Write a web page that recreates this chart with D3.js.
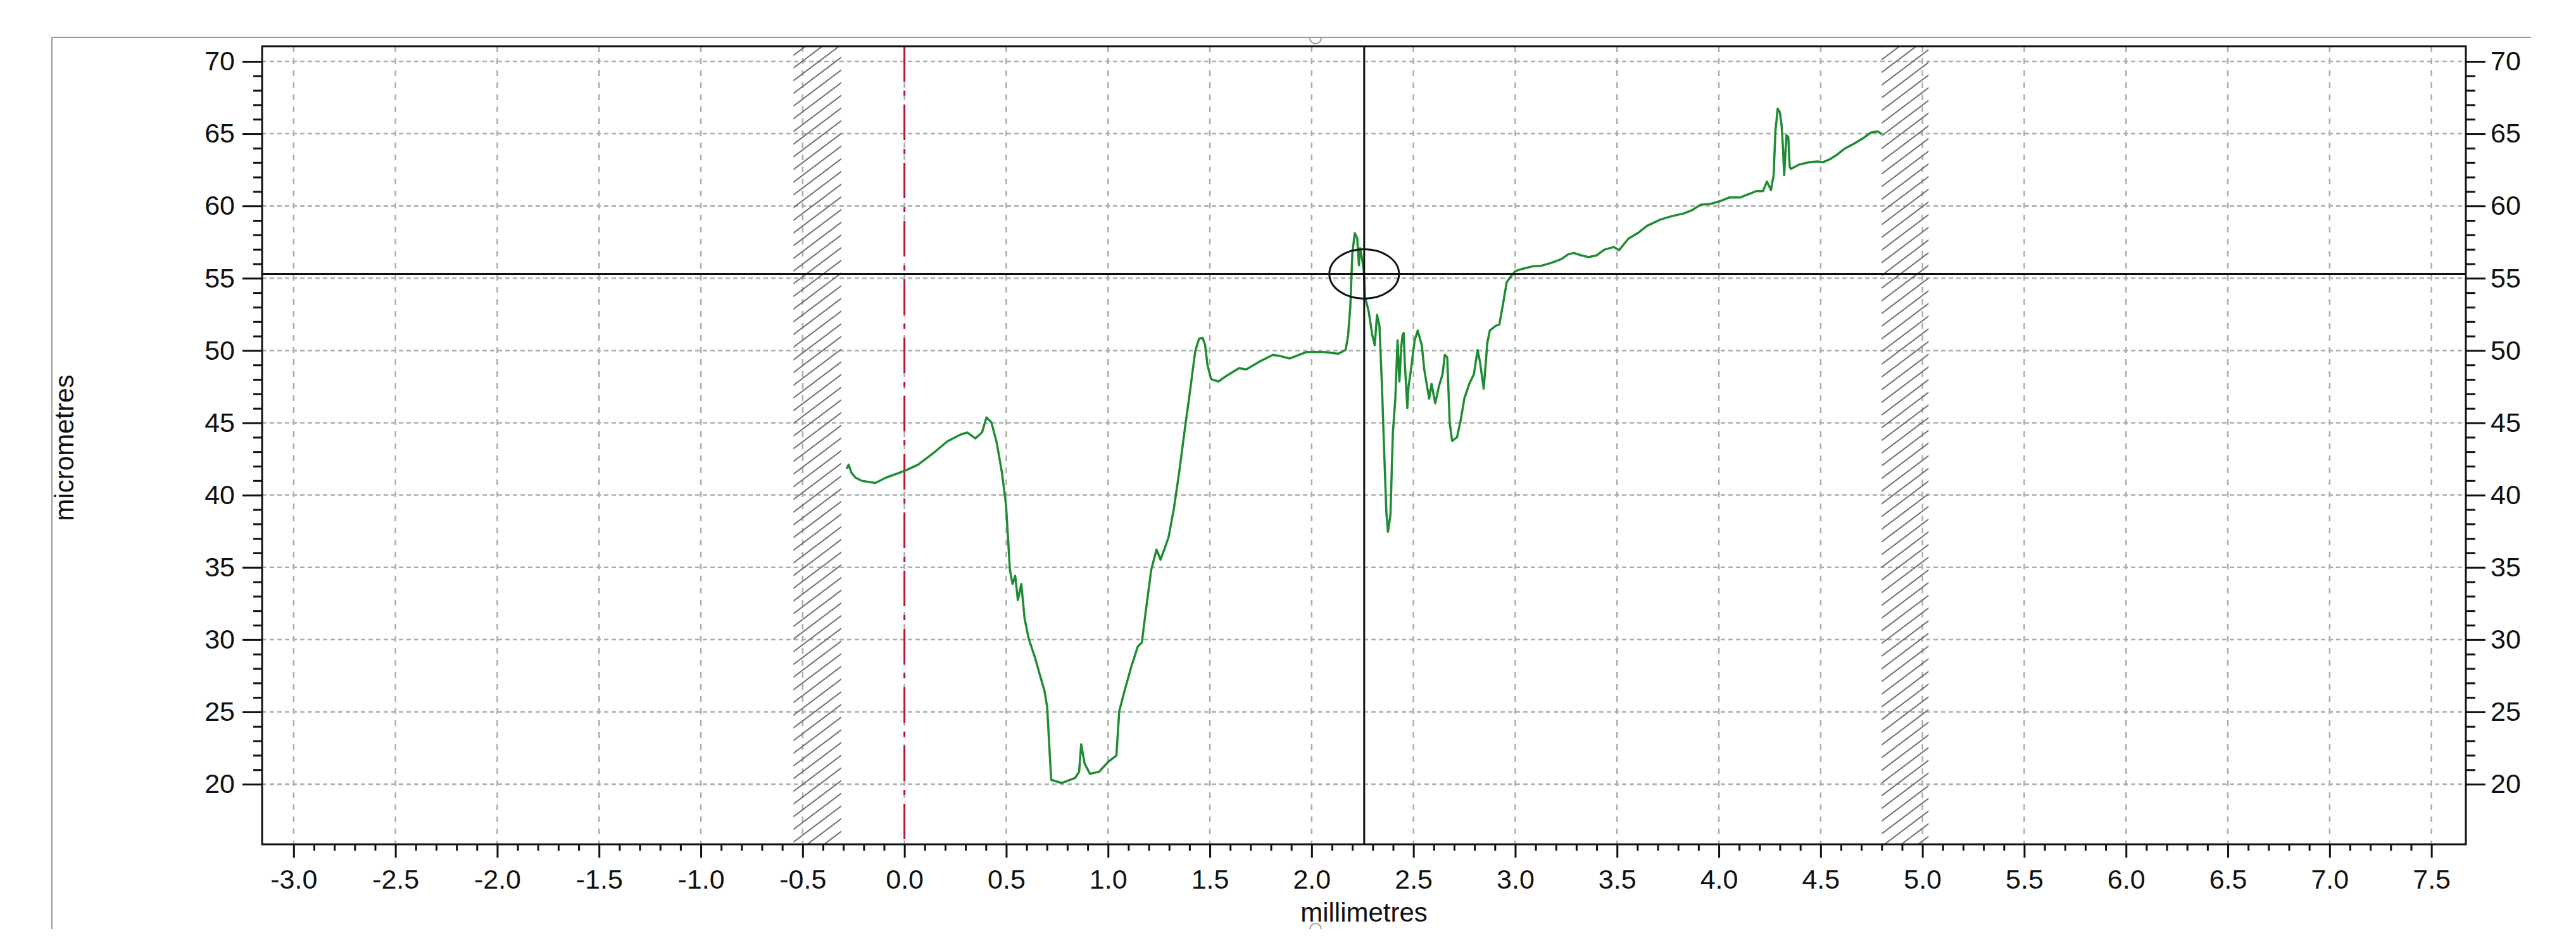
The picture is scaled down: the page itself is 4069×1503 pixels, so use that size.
<!DOCTYPE html>
<html>
<head>
<meta charset="utf-8">
<script src="https://cdnjs.cloudflare.com/ajax/libs/d3/7.8.5/d3.min.js"></script>
<style>
	body { margin: 0; background: #fff; }
	text { font-family: "Liberation Sans", Arial, sans-serif; fill: #111; }
</style>
</head>
<body>
<svg id="chart"></svg>
<script type="text/javascript">

	// profile data (millimetres, micrometres)
	let profileX = [
		-0.284, -0.274, -0.260, -0.241, -0.208, -0.143, -0.090, 0.001, 0.067, 0.145,
		0.211, 0.276, 0.309, 0.348, 0.381, 0.403, 0.427, 0.453, 0.479, 0.499,
		0.518, 0.531, 0.544, 0.557, 0.574, 0.590, 0.610, 0.643, 0.662, 0.688,
		0.701, 0.714, 0.721, 0.773, 0.839, 0.858, 0.868, 0.885, 0.911, 0.956,
		1.002, 1.041, 1.055, 1.081, 1.114, 1.146, 1.166, 1.186, 1.212, 1.238,
		1.258, 1.297, 1.323, 1.349, 1.375, 1.402, 1.428, 1.447, 1.465, 1.477,
		1.488, 1.506, 1.542, 1.584, 1.643, 1.679, 1.750, 1.810, 1.845, 1.893,
		1.976, 2.060, 2.131, 2.167, 2.179, 2.190, 2.200, 2.212, 2.224, 2.232,
		2.238, 2.248, 2.256, 2.262, 2.280, 2.298, 2.310, 2.321, 2.333, 2.345,
		2.355, 2.367, 2.375, 2.387, 2.399, 2.411, 2.422, 2.431, 2.440, 2.446,
		2.452, 2.458, 2.470, 2.476, 2.488, 2.506, 2.521, 2.541, 2.553, 2.577,
		2.589, 2.607, 2.625, 2.643, 2.654, 2.666, 2.678, 2.690, 2.714, 2.732,
		2.750, 2.774, 2.797, 2.815, 2.827, 2.845, 2.863, 2.875, 2.904, 2.922,
		2.940, 2.958, 2.976, 3.000, 3.035, 3.083, 3.130, 3.178, 3.226, 3.261,
		3.288, 3.320, 3.360, 3.399, 3.438, 3.484, 3.510, 3.556, 3.608, 3.647,
		3.713, 3.765, 3.831, 3.870, 3.909, 3.961, 4.014, 4.053, 4.106, 4.158,
		4.184, 4.217, 4.236, 4.256, 4.269, 4.278, 4.289, 4.299, 4.308, 4.315,
		4.321, 4.332, 4.341, 4.348, 4.354, 4.393, 4.446, 4.485, 4.511, 4.544,
		4.577, 4.616, 4.655, 4.708, 4.747, 4.780, 4.799
	]
	let profileY = [
		41.82, 42.10, 41.54, 41.21, 40.98, 40.84, 41.21, 41.68, 42.10, 42.94,
		43.72, 44.19, 44.33, 43.92, 44.33, 45.37, 45.03, 43.64, 41.54, 39.30,
		34.83, 33.85, 34.41, 32.74, 33.85, 31.48, 30.08, 28.68, 27.71, 26.45,
		25.33, 21.98, 20.30, 20.08, 20.44, 20.86, 22.76, 21.42, 20.72, 20.86,
		21.56, 21.98, 25.05, 26.45, 28.12, 29.52, 29.80, 32.04, 34.83, 36.23,
		35.53, 37.07, 39.03, 41.54, 44.33, 47.13, 49.93, 50.82, 50.87, 50.37,
		49.03, 48.02, 47.86, 48.27, 48.78, 48.69, 49.28, 49.70, 49.62, 49.45,
		49.90, 49.90, 49.78, 50.04, 51.04, 53.05, 56.74, 58.12, 57.75, 55.90,
		57.08, 56.32, 55.57, 53.72, 52.72, 51.04, 50.37, 52.47, 51.71, 47.69,
		43.50, 38.80, 37.46, 38.63, 44.33, 46.68, 50.71, 47.86, 50.20, 51.04,
		51.21, 49.03, 46.01, 47.52, 48.69, 50.71, 51.38, 50.37, 48.69, 46.68,
		47.69, 46.35, 47.52, 48.36, 49.70, 49.53, 45.00, 43.75, 44.00, 45.17,
		46.68, 47.69, 48.36, 50.04, 49.20, 47.35, 50.54, 51.38, 51.71, 51.80,
		53.22, 54.73, 55.07, 55.49, 55.65, 55.82, 55.87, 56.07, 56.32, 56.66,
		56.75, 56.60, 56.46, 56.58, 56.98, 57.16, 56.94, 57.74, 58.18, 58.62,
		59.06, 59.28, 59.50, 59.72, 60.08, 60.15, 60.37, 60.59, 60.59, 60.88,
		61.03, 61.03, 61.69, 61.10, 62.13, 65.19, 66.73, 66.51, 65.63, 64.03,
		62.13, 64.90, 64.76, 62.71, 62.56, 62.86, 63.03, 63.08, 63.03, 63.22,
		63.51, 63.95, 64.24, 64.68, 65.08, 65.16, 64.97
	]

	// hatched exclusion bands, zero reference and cursor
	let bandStart = [-0.545, 4.80]
	let bandEnd = [-0.31, 5.03]
	let zeroMark = 0.0
	let cursorX = 2.258
	let cursorY = 55.3

	// ticks
	let xMajorTicks = [-3.0, -2.5, -2.0, -1.5, -1.0, -0.5, 0.0, 0.5, 1.0, 1.5, 2.0, 2.5, 3.0, 3.5, 4.0, 4.5, 5.0, 5.5, 6.0, 6.5, 7.0, 7.5]
	let yMajorTicks = [20, 25, 30, 35, 40, 45, 50, 55, 60, 65, 70]
	let xLabel = "millimetres"
	let yLabel = "micrometres"

	let width = 4069
	let height = 1503
	let plotLeft = 414
	let plotRight = 3895
	let plotTop = 73
	let plotBottom = 1333

	let chart = d3.select("#chart")
		.attr("width", width)
		.attr("height", height)

	let xScale = d3.scaleLinear()
		.domain([-3.155, 7.669])
		.range([plotLeft, plotRight])

	let yScale = d3.scaleLinear()
		.domain([15.84, 71.05])
		.range([plotBottom, plotTop])

	let xMinorTicks = d3.range(-30, 76).map(function(i){ return i / 10 })
		.filter(function(v){ return Math.round(v * 10) % 5 != 0 })
	let yMinorTicks = d3.range(20, 71).filter(function(v){ return v % 5 != 0 })

	// outer window frame (only top and left edge visible)
	chart.append("path")
		.attr("d", "M82,1467 V59 H3998")
		.style("fill", "none")
		.style("stroke", "#9a9a9a")
		.style("stroke-width", 2)
	chart.append("path")
		.attr("d", "M2069,60 a9,9 0 0 0 18,0")
		.style("fill", "none").style("stroke", "#9a9a9a").style("stroke-width", 2)
	chart.append("path")
		.attr("d", "M2069,1467 a9,9 0 0 1 18,0")
		.style("fill", "none").style("stroke", "#9a9a9a").style("stroke-width", 2)

	// hatch pattern
	let defs = chart.append("defs")
	let pattern = defs.append("pattern")
		.attr("id", "hatch")
		.attr("patternUnits", "userSpaceOnUse")
		.attr("width", 40)
		.attr("height", 16)
		.attr("patternTransform", "rotate(-37)")
	pattern.append("line")
		.attr("x1", 0).attr("x2", 40)
		.attr("y1", 8).attr("y2", 8)
		.style("stroke", "#6e6e6e")
		.style("stroke-width", 2)

	defs.append("clipPath").attr("id", "plotClip")
		.append("rect")
		.attr("x", plotLeft).attr("y", plotTop)
		.attr("width", plotRight - plotLeft)
		.attr("height", plotBottom - plotTop)

	// grid
	chart.append("g").selectAll("line")
		.data(yMajorTicks)
		.enter().append("line")
		.attr("x1", plotLeft).attr("x2", plotRight)
		.attr("y1", function(d){ return yScale(d) })
		.attr("y2", function(d){ return yScale(d) })
		.style("stroke", "#adadad")
		.style("stroke-width", 2.5)
		.style("stroke-dasharray", "7,5")

	chart.append("g").selectAll("line")
		.data(xMajorTicks)
		.enter().append("line")
		.attr("x1", function(d){ return xScale(d) })
		.attr("x2", function(d){ return xScale(d) })
		.attr("y1", plotTop).attr("y2", plotBottom)
		.style("stroke", "#adadad")
		.style("stroke-width", 2.5)
		.style("stroke-dasharray", "9,10")

	// hatched bands
	chart.append("g").selectAll("rect")
		.data(bandStart)
		.enter().append("rect")
		.attr("x", function(d){ return xScale(d) })
		.attr("width", function(d, i){ return xScale(bandEnd[i]) - xScale(d) })
		.attr("y", plotTop)
		.attr("height", plotBottom - plotTop)
		.style("fill", "url(#hatch)")

	// zero reference line
	chart.append("line")
		.attr("x1", xScale(zeroMark)).attr("x2", xScale(zeroMark))
		.attr("y1", plotTop).attr("y2", plotBottom)
		.style("stroke", "#b8142e")
		.style("stroke-width", 3)
		.style("stroke-dasharray", "56,14,8,14")

	// profile line
	let profile = profileX.map(function(x, i){ return { x: x, y: profileY[i] } })
	let lineGenerator = d3.line()
		.x(function(d){ return xScale(d.x) })
		.y(function(d){ return yScale(d.y) })

	chart.append("path")
		.datum(profile)
		.attr("clip-path", "url(#plotClip)")
		.attr("d", lineGenerator)
		.style("fill", "none")
		.style("stroke", "#1e8c32")
		.style("stroke-width", 3.5)
		.style("stroke-linejoin", "round")

	// cursor crosshair
	chart.append("line")
		.attr("x1", xScale(cursorX)).attr("x2", xScale(cursorX))
		.attr("y1", plotTop).attr("y2", plotBottom)
		.style("stroke", "#111").style("stroke-width", 3)
	chart.append("line")
		.attr("x1", plotLeft).attr("x2", plotRight)
		.attr("y1", yScale(cursorY)).attr("y2", yScale(cursorY))
		.style("stroke", "#111").style("stroke-width", 3)
	chart.append("ellipse")
		.attr("cx", xScale(cursorX))
		.attr("cy", yScale(cursorY))
		.attr("rx", 55).attr("ry", 39)
		.style("fill", "none")
		.style("stroke", "#111")
		.style("stroke-width", 3)

	// plot box
	chart.append("rect")
		.attr("x", plotLeft).attr("y", plotTop)
		.attr("width", plotRight - plotLeft)
		.attr("height", plotBottom - plotTop)
		.style("fill", "none")
		.style("stroke", "#111")
		.style("stroke-width", 3)

	// axes
	function styleAxis(g){
		g.select(".domain").remove()
		g.selectAll(".tick line").style("stroke", "#111").style("stroke-width", 3)
		g.selectAll("text").style("font-size", "43px").style("fill", "#111")
			.attr("font-family", null)
	}

	let xMinorAxis = d3.axisBottom(xScale).tickValues(xMinorTicks).tickSize(10).tickFormat("")
	let xMajorAxis = d3.axisBottom(xScale).tickValues(xMajorTicks).tickSize(21)
		.tickFormat(function(d){ return d.toFixed(1) })

	chart.append("g")
		.attr("transform", "translate(0," + plotBottom + ")")
		.call(xMinorAxis).call(styleAxis)
	let xAxisGlyph = chart.append("g")
		.attr("transform", "translate(0," + plotBottom + ")")
		.call(xMajorAxis).call(styleAxis)
	xAxisGlyph.selectAll("text").attr("y", 70).attr("dy", null)

	let yLeftMinor = d3.axisLeft(yScale).tickValues(yMinorTicks).tickSize(14).tickFormat("")
	let yLeftMajor = d3.axisLeft(yScale).tickValues(yMajorTicks).tickSize(31).tickPadding(12)
		.tickFormat(d3.format("d"))
	let yRightMinor = d3.axisRight(yScale).tickValues(yMinorTicks).tickSize(15).tickFormat("")
	let yRightMajor = d3.axisRight(yScale).tickValues(yMajorTicks).tickSize(31).tickPadding(8)
		.tickFormat(d3.format("d"))

	chart.append("g").attr("transform", "translate(" + plotLeft + ",0)").call(yLeftMinor).call(styleAxis)
	chart.append("g").attr("transform", "translate(" + plotLeft + ",0)").call(yLeftMajor).call(styleAxis)
	chart.append("g").attr("transform", "translate(" + plotRight + ",0)").call(yRightMinor).call(styleAxis)
	chart.append("g").attr("transform", "translate(" + plotRight + ",0)").call(yRightMajor).call(styleAxis)

	// axis titles
	chart.append("text")
		.attr("x", (plotLeft + plotRight) / 2)
		.attr("y", 1455)
		.attr("text-anchor", "middle")
		.style("font-size", "42px")
		.text(xLabel)

	chart.append("text")
		.attr("transform", "translate(116," + ((plotTop + plotBottom) / 2 + 4) + ") rotate(-90)")
		.attr("text-anchor", "middle")
		.style("font-size", "42px")
		.text(yLabel)

</script>
</body>
</html>
